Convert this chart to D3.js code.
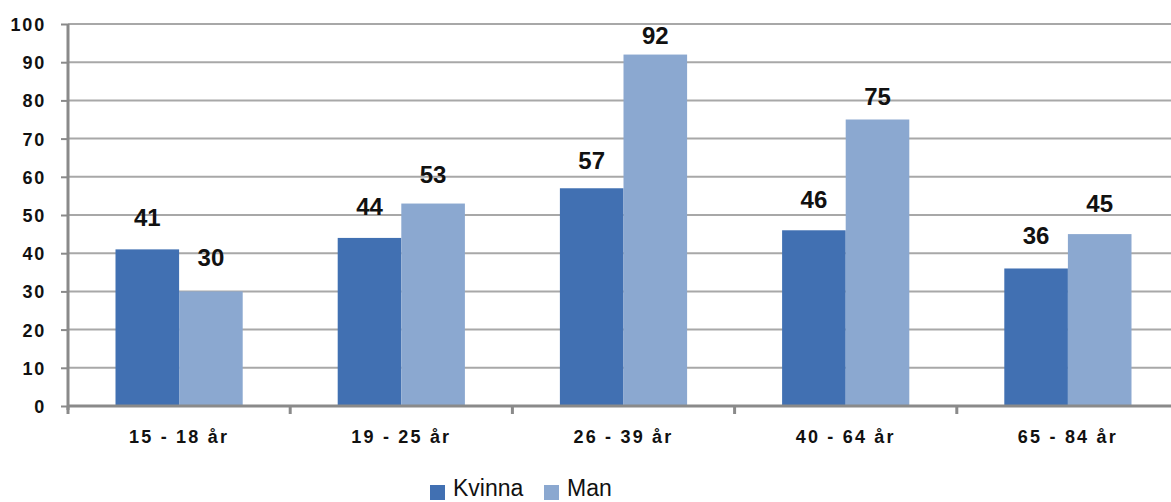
<!DOCTYPE html>
<html>
<head>
<meta charset="utf-8">
<script src="https://cdn.jsdelivr.net/npm/d3@7"></script>
<style>
  html, body { margin: 0; padding: 0; background: #fff; }
  svg { display: block; font-family: "Liberation Sans", Arial, sans-serif; }
</style>
</head>
<body>
<svg id="chart" width="1171" height="502"></svg>
<script>
// Age groups and values per gender
const categories = ["15 - 18 år", "19 - 25 år", "26 - 39 år", "40 - 64 år", "65 - 84 år"];
const seriesNames = ["Kvinna", "Man"];
const kvinna = [41, 44, 57, 46, 36];
const man = [30, 53, 92, 75, 45];
const yTicks = [0, 10, 20, 30, 40, 50, 60, 70, 80, 90, 100];
const colors = ["#4170b2", "#8ba8d0"];

const svg = d3.select("#chart");
const plotLeft = 68, plotTop = 24, plotBottom = 406;
const bandW = 222.2;
const plotRight = plotLeft + bandW * categories.length;

const x = d3.scaleBand().domain(categories).range([plotLeft, plotRight]).padding(0);
const xs = d3.scaleBand().domain(seriesNames).range([47.5, bandW - 47.5]).padding(0);
const y = d3.scaleLinear().domain([0, 100]).range([plotBottom, plotTop]);
// Value labels ride on a slightly flatter scale so tall bars keep their labels close
const yLabel = d3.scaleLinear().domain([0, 100]).range([373, 15]);

// Horizontal gridlines
svg.append("g").selectAll("line").data(yTicks.filter(d => d > 0)).join("line")
  .attr("x1", plotLeft).attr("x2", 1171)
  .attr("y1", d => y(d)).attr("y2", d => y(d))
  .attr("stroke", "#a8a8a8").attr("stroke-width", 2);

// Bars
const rows = categories.map((c, i) => ({ cat: c, vals: [kvinna[i], man[i]] }));
const groups = svg.append("g").selectAll("g").data(rows).join("g")
  .attr("transform", d => `translate(${x(d.cat)},0)`);

groups.selectAll("rect").data(d => d.vals.map((v, j) => ({ s: seriesNames[j], v, j }))).join("rect")
  .attr("x", d => xs(d.s))
  .attr("width", xs.bandwidth())
  .attr("y", d => y(d.v))
  .attr("height", d => y(0) - y(d.v))
  .attr("fill", d => colors[d.j]);

// Value labels above bars
groups.selectAll("text").data(d => d.vals.map((v, j) => ({ s: seriesNames[j], v }))).join("text")
  .attr("x", d => xs(d.s) + xs.bandwidth() / 2)
  .attr("y", d => yLabel(d.v))
  .attr("text-anchor", "middle")
  .attr("font-size", 24).attr("font-weight", "bold").attr("fill", "#111")
  .text(d => d.v);

// Y axis
const yAxis = svg.append("g").attr("transform", `translate(${plotLeft},0)`)
  .call(d3.axisLeft(y).tickValues(yTicks).tickSize(7).tickPadding(0).tickFormat(d3.format("d")));
yAxis.select(".domain").attr("stroke", "#8a8a8a").attr("stroke-width", 3)
  .attr("d", `M0,${plotTop}V${plotBottom + 4}`);
yAxis.selectAll(".tick line").attr("stroke", "#8a8a8a").attr("stroke-width", 2);
yAxis.selectAll(".tick text")
  .attr("x", -22).attr("dy", "0.36em")
  .attr("font-size", 18).attr("font-weight", "bold").attr("fill", "#111")
  .attr("letter-spacing", "1.8px")
  .attr("font-family", "Liberation Sans, Arial, sans-serif");

// X axis
const xAxis = svg.append("g").attr("transform", `translate(0,${plotBottom})`)
  .call(d3.axisBottom(x).tickSize(0).tickPadding(0));
xAxis.select(".domain").attr("stroke", "#8a8a8a").attr("stroke-width", 3)
  .attr("d", `M${plotLeft},0H1171`);
xAxis.selectAll(".tick text")
  .attr("y", 37).attr("dy", 0)
  .attr("font-size", 18).attr("font-weight", "bold").attr("fill", "#111")
  .attr("letter-spacing", "2.2px")
  .attr("font-family", "Liberation Sans, Arial, sans-serif");

// Category boundary ticks
svg.append("g").selectAll("line").data(d3.range(categories.length + 1)).join("line")
  .attr("x1", i => plotLeft + i * bandW).attr("x2", i => plotLeft + i * bandW)
  .attr("y1", plotBottom).attr("y2", plotBottom + 8)
  .attr("stroke", "#8a8a8a").attr("stroke-width", 3);

// Legend
const legend = svg.append("g");
const legendX = [430, 544];
seriesNames.forEach((s, i) => {
  legend.append("rect").attr("x", legendX[i]).attr("y", 485).attr("width", 15).attr("height", 15)
    .attr("fill", colors[i]);
  legend.append("text").attr("x", legendX[i] + 23).attr("y", 496)
    .attr("font-size", 23).attr("fill", "#111").text(s);
});
</script>
</body>
</html>
